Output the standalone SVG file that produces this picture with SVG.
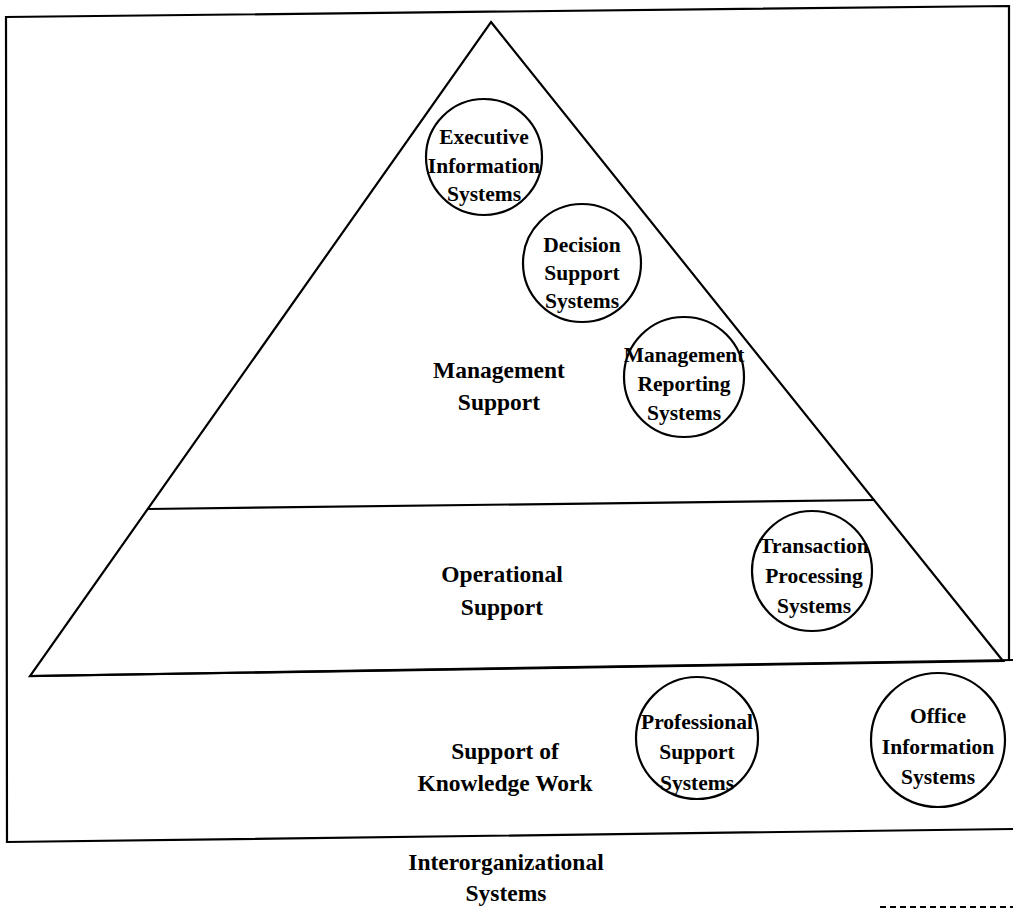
<svg xmlns="http://www.w3.org/2000/svg" width="1013" height="909" viewBox="0 0 1013 909">
<style>
.ln{fill:none;stroke:#000;stroke-width:2.2;stroke-linejoin:miter}
.c{fill:#fff;stroke:#000;stroke-width:2.2}
text{font-family:"Liberation Serif","Times New Roman",serif;font-weight:bold;font-size:21.5px;fill:#000;text-anchor:middle}
.lb{font-size:23.5px}
</style>
<rect width="1013" height="909" fill="#fff"/>
<g id="frame">
<polyline class="ln" points="1009,660 1009,6 6,17 7,842 1013,829"/>
</g>
<g id="pyramid">
<polygon class="ln" points="491,22 1003,661 30,676"/>
<line class="ln" x1="30" y1="676" x2="1013" y2="660"/>
<line class="ln" x1="148" y1="509" x2="875" y2="500"/>
</g>
<g id="connectors"></g>
<g id="eis">
<circle class="c" cx="484" cy="157" r="58"/>
<text x="484" y="144">Executive</text>
<text x="484" y="173">Information</text>
<text x="484" y="201">Systems</text>
</g>
<g id="dss">
<circle class="c" cx="582" cy="263" r="59"/>
<text x="582" y="252">Decision</text>
<text x="582" y="280">Support</text>
<text x="582" y="308">Systems</text>
</g>
<g id="mrs">
<circle class="c" cx="684" cy="377" r="60"/>
<text x="684" y="362">Management</text>
<text x="684" y="391">Reporting</text>
<text x="684" y="420">Systems</text>
</g>
<g id="tps">
<circle class="c" cx="812" cy="571" r="60"/>
<text x="814" y="553">Transaction</text>
<text x="814" y="583">Processing</text>
<text x="814" y="613">Systems</text>
</g>
<g id="pss">
<circle class="c" cx="697" cy="738" r="61"/>
<text x="697" y="729">Professional</text>
<text x="697" y="759">Support</text>
<text x="697" y="790">Systems</text>
</g>
<g id="ois">
<circle class="c" cx="938" cy="740" r="67"/>
<text x="938" y="723">Office</text>
<text x="938" y="754">Information</text>
<text x="938" y="784">Systems</text>
</g>
<g id="lbl-mgmt">
<text class="lb" x="499" y="378">Management</text>
<text class="lb" x="499" y="410">Support</text>
</g>
<g id="lbl-ops">
<text class="lb" x="502" y="582">Operational</text>
<text class="lb" x="502" y="615">Support</text>
</g>
<g id="lbl-know">
<text class="lb" x="505" y="759">Support of</text>
<text class="lb" x="505" y="791">Knowledge Work</text>
</g>
<g id="lbl-inter">
<text class="lb" x="506" y="870">Interorganizational</text>
<text class="lb" x="506" y="901">Systems</text>
</g>
<line x1="880" y1="907" x2="1013" y2="907" stroke="#000" stroke-width="2" stroke-dasharray="6,4"/>
</svg>
